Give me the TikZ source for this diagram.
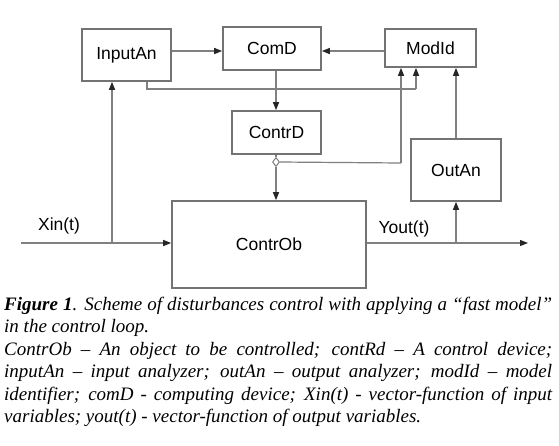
\documentclass[tikz,border=0pt]{standalone}
\usepackage{fontspec}
\setmainfont{Liberation Serif}
\newfontfamily\diafont{Liberation Sans}
\usetikzlibrary{arrows.meta,shapes.geometric}
\begin{document}
\begin{tikzpicture}[x=1pt,y=-1pt,
  box/.style={draw=black!55,line width=1.6pt,fill=white,inner sep=0pt,font=\diafont\fontsize{17.5}{20}\selectfont},
  conn/.style={draw=black!50,line width=1.2pt},
  arr/.style={conn,-{Triangle[length=8pt,width=6pt,color=black!85]}},
  captxt/.style={anchor=base west,inner sep=0pt,font=\itshape\fontsize{19}{22}\selectfont}]
\useasboundingbox (0,0) rectangle (559,445);
% boxes
\node[box,minimum width=89pt,minimum height=52pt] (inp) at (126.5,55) {InputAn};
\node[box,minimum width=98pt,minimum height=43pt] (comd) at (272,48.5) {ComD};
\node[box,minimum width=91pt,minimum height=38pt] (modid) at (430.5,48) {ModId};
\node[box,minimum width=89pt,minimum height=43pt] (contrd) at (276.5,132.5) {ContrD};
\node[box,minimum width=90pt,minimum height=62pt] (outan) at (456,170) {OutAn};
\node[box,minimum width=194pt,minimum height=87pt] (ob) at (269,244.5) {ContrOb};
% helper coordinates
\coordinate (xin) at (21,243);
\coordinate (jin) at (112,243);
\coordinate (yend) at (528,243);
\coordinate (jout) at (456,243);
\coordinate (c147) at (147,89);
\coordinate (c416) at (416,89);
\coordinate (c401) at (401,163);
\coordinate (cx275) at (276,0);
\coordinate (y51) at (0,51);
\node[diamond,draw=black!55,fill=white,line width=0.9pt,inner sep=0pt,minimum width=7pt,minimum height=9pt] (dia) at (276,162) {};
% labels
\node[font=\diafont\fontsize{17.5}{20}\selectfont,inner sep=0pt] (lxin) at (59,226) {Xin(t)};
\node[font=\diafont\fontsize{17.5}{20}\selectfont,inner sep=0pt] (lyout) at (404,229) {Yout(t)};
% connectors
\draw[arr] (inp.east |- y51) -- (comd.west |- y51);
\draw[arr] (modid.west |- y51) -- (comd.east |- y51);
\draw[arr] (comd.south -| cx275) -- (contrd.north -| cx275);
\draw[conn] (inp.south -| c147) -- (c147) -- (c416);
\draw[arr] (c416) -- (modid.south -| c416);
\draw[conn] (contrd.south -| dia) -- (dia.north);
\draw[arr] (dia.south) -- (ob.north -| dia);
\draw[conn] (dia.east) -- (c401);
\draw[arr] (c401) -- (modid.south -| c401);
\draw[arr] (xin) -- (ob.west |- xin);
\draw[arr] (jin) -- (inp.south -| jin);
\draw[arr] (ob.east |- yend) -- (yend);
\draw[arr] (jout) -- (outan.south -| jout);
\draw[arr] (outan.north) -- (modid.south -| outan.north);
% caption
\node[captxt] (cap1) at (4,310) {\makebox[548pt][s]{\textbf{Figure 1}. Scheme of disturbances control with applying a “fast model”}};
\node[captxt] (cap2) at (4,332.5) {in the control loop.};
\node[captxt] (cap3) at (4,355) {\makebox[548pt][s]{ContrOb – An object to be controlled; contRd – A control device;}};
\node[captxt] (cap4) at (4,377.5) {\makebox[548pt][s]{inputAn – input analyzer; outAn – output analyzer; modId – model}};
\node[captxt] (cap5) at (4,400) {\makebox[548pt][s]{identifier; comD - computing device; Xin(t) - vector-function of input}};
\node[captxt] (cap6) at (4,422.5) {variables; yout(t) - vector-function of output variables.};
\end{tikzpicture}
\end{document}
